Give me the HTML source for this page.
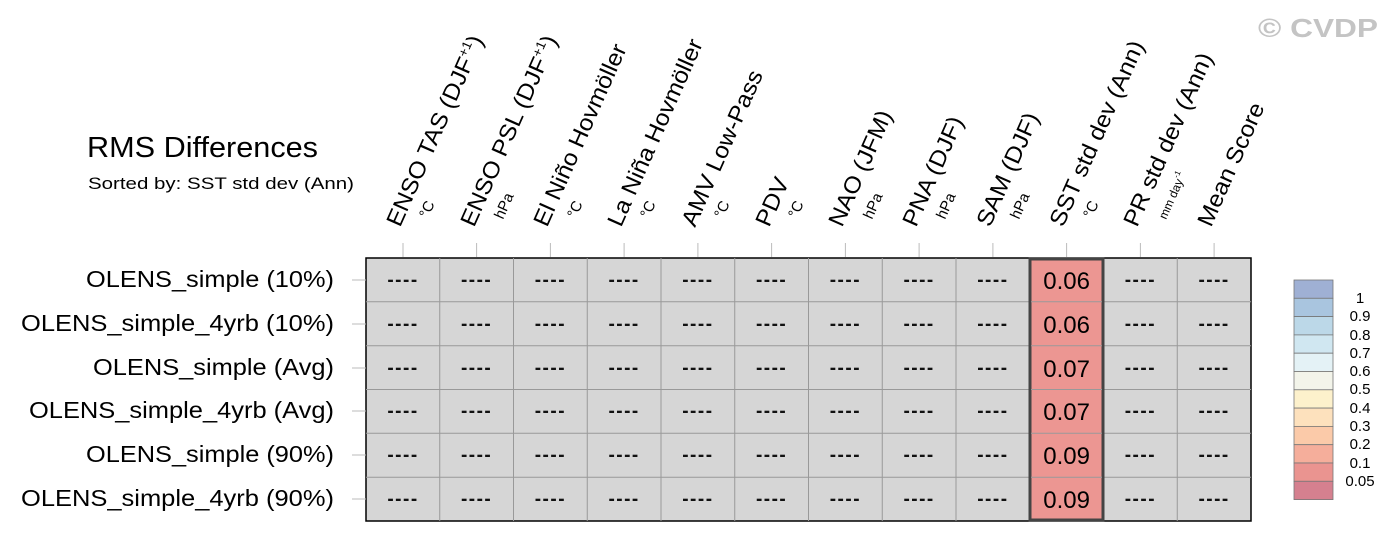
<!DOCTYPE html>
<html><head><meta charset="utf-8"><style>html,body{margin:0;padding:0;background:#fff}svg{display:block}</style></head>
<body>
<svg width="1397" height="542" viewBox="0 0 1397 542" xmlns="http://www.w3.org/2000/svg" font-family="Liberation Sans, Arial, sans-serif">
<text x="1258" y="37" font-size="26" font-weight="bold" fill="#c4c4c4" textLength="120" lengthAdjust="spacingAndGlyphs">© CVDP</text>
<text x="87" y="157" font-size="29" fill="#000" textLength="231" lengthAdjust="spacingAndGlyphs">RMS Differences</text>
<text x="88" y="189" font-size="17" fill="#000" textLength="266" lengthAdjust="spacingAndGlyphs">Sorted by: SST std dev (Ann)</text>
<rect x="366" y="258" width="885" height="263" fill="#d6d6d6" stroke="#000" stroke-width="1.5"/>
<g stroke="#999" stroke-width="1">
<line x1="439.75" y1="258" x2="439.75" y2="521"/><line x1="513.5" y1="258" x2="513.5" y2="521"/><line x1="587.25" y1="258" x2="587.25" y2="521"/><line x1="661" y1="258" x2="661" y2="521"/><line x1="734.75" y1="258" x2="734.75" y2="521"/><line x1="808.5" y1="258" x2="808.5" y2="521"/><line x1="882.25" y1="258" x2="882.25" y2="521"/><line x1="956" y1="258" x2="956" y2="521"/><line x1="1103.5" y1="258" x2="1103.5" y2="521"/><line x1="1177.25" y1="258" x2="1177.25" y2="521"/>
<line x1="366" y1="301.8" x2="1251" y2="301.8"/><line x1="366" y1="345.7" x2="1251" y2="345.7"/><line x1="366" y1="389.5" x2="1251" y2="389.5"/><line x1="366" y1="433.3" x2="1251" y2="433.3"/><line x1="366" y1="477.2" x2="1251" y2="477.2"/>
</g>
<rect x="1030" y="259" width="73" height="261" fill="#ec9692" stroke="#444" stroke-width="3"/>
<g stroke="#999"><line x1="1031" y1="301.8" x2="1102" y2="301.8"/><line x1="1031" y1="345.7" x2="1102" y2="345.7"/><line x1="1031" y1="389.5" x2="1102" y2="389.5"/><line x1="1031" y1="433.3" x2="1102" y2="433.3"/><line x1="1031" y1="477.2" x2="1102" y2="477.2"/></g>
<g stroke="#bbb"><line x1="352" y1="280" x2="366" y2="280"/><line x1="352" y1="324" x2="366" y2="324"/><line x1="352" y1="368" x2="366" y2="368"/><line x1="352" y1="411" x2="366" y2="411"/><line x1="352" y1="455" x2="366" y2="455"/><line x1="352" y1="499" x2="366" y2="499"/></g>
<g font-size="23" text-anchor="end" fill="#000">
<text x="334" y="287" textLength="248" lengthAdjust="spacingAndGlyphs">OLENS_simple (10%)</text>
<text x="334" y="331" textLength="313" lengthAdjust="spacingAndGlyphs">OLENS_simple_4yrb (10%)</text>
<text x="334" y="375" textLength="241" lengthAdjust="spacingAndGlyphs">OLENS_simple (Avg)</text>
<text x="334" y="418" textLength="305" lengthAdjust="spacingAndGlyphs">OLENS_simple_4yrb (Avg)</text>
<text x="334" y="462" textLength="248" lengthAdjust="spacingAndGlyphs">OLENS_simple (90%)</text>
<text x="334" y="506" textLength="313" lengthAdjust="spacingAndGlyphs">OLENS_simple_4yrb (90%)</text>
</g>
<g font-size="24" text-anchor="middle" fill="#000">
<text x="1066.6" y="289">0.06</text><text x="1066.6" y="333">0.06</text><text x="1066.6" y="377">0.07</text><text x="1066.6" y="420">0.07</text><text x="1066.6" y="464">0.09</text><text x="1066.6" y="508">0.09</text>
</g>
<g font-size="19" font-weight="bold" text-anchor="middle" fill="#111" letter-spacing="1.5">
<text x="403" y="286">----</text><text x="476.6" y="286">----</text><text x="550.4" y="286">----</text><text x="624.1" y="286">----</text><text x="697.9" y="286">----</text><text x="771.6" y="286">----</text><text x="845.4" y="286">----</text><text x="919.1" y="286">----</text><text x="992.9" y="286">----</text><text x="1140.4" y="286">----</text><text x="1214.1" y="286">----</text>
<text x="403" y="330">----</text><text x="476.6" y="330">----</text><text x="550.4" y="330">----</text><text x="624.1" y="330">----</text><text x="697.9" y="330">----</text><text x="771.6" y="330">----</text><text x="845.4" y="330">----</text><text x="919.1" y="330">----</text><text x="992.9" y="330">----</text><text x="1140.4" y="330">----</text><text x="1214.1" y="330">----</text>
<text x="403" y="374">----</text><text x="476.6" y="374">----</text><text x="550.4" y="374">----</text><text x="624.1" y="374">----</text><text x="697.9" y="374">----</text><text x="771.6" y="374">----</text><text x="845.4" y="374">----</text><text x="919.1" y="374">----</text><text x="992.9" y="374">----</text><text x="1140.4" y="374">----</text><text x="1214.1" y="374">----</text>
<text x="403" y="417">----</text><text x="476.6" y="417">----</text><text x="550.4" y="417">----</text><text x="624.1" y="417">----</text><text x="697.9" y="417">----</text><text x="771.6" y="417">----</text><text x="845.4" y="417">----</text><text x="919.1" y="417">----</text><text x="992.9" y="417">----</text><text x="1140.4" y="417">----</text><text x="1214.1" y="417">----</text>
<text x="403" y="461">----</text><text x="476.6" y="461">----</text><text x="550.4" y="461">----</text><text x="624.1" y="461">----</text><text x="697.9" y="461">----</text><text x="771.6" y="461">----</text><text x="845.4" y="461">----</text><text x="919.1" y="461">----</text><text x="992.9" y="461">----</text><text x="1140.4" y="461">----</text><text x="1214.1" y="461">----</text>
<text x="403" y="505">----</text><text x="476.6" y="505">----</text><text x="550.4" y="505">----</text><text x="624.1" y="505">----</text><text x="697.9" y="505">----</text><text x="771.6" y="505">----</text><text x="845.4" y="505">----</text><text x="919.1" y="505">----</text><text x="992.9" y="505">----</text><text x="1140.4" y="505">----</text><text x="1214.1" y="505">----</text>
</g>
<g stroke="#bbb">
<line x1="403" y1="243" x2="403" y2="257"/><line x1="476.6" y1="243" x2="476.6" y2="257"/><line x1="550.4" y1="243" x2="550.4" y2="257"/><line x1="624.1" y1="243" x2="624.1" y2="257"/><line x1="697.9" y1="243" x2="697.9" y2="257"/><line x1="771.6" y1="243" x2="771.6" y2="257"/><line x1="845.4" y1="243" x2="845.4" y2="257"/><line x1="919.1" y1="243" x2="919.1" y2="257"/><line x1="992.9" y1="243" x2="992.9" y2="257"/><line x1="1066.6" y1="243" x2="1066.6" y2="257"/><line x1="1140.4" y1="243" x2="1140.4" y2="257"/><line x1="1214.1" y1="243" x2="1214.1" y2="257"/>
</g>
<g font-size="23" fill="#000">
<text transform="translate(400,228) rotate(-66) scale(1.07,1)">ENSO TAS (DJF<tspan font-size="13" dy="-9">+1</tspan><tspan dy="9">)</tspan></text>
<text transform="translate(474,228) rotate(-66) scale(1.07,1)">ENSO PSL (DJF<tspan font-size="13" dy="-9">+1</tspan><tspan dy="9">)</tspan></text>
<text transform="translate(547,228) rotate(-66) scale(1.07,1)">El Niño Hovmöller</text>
<text transform="translate(621,228) rotate(-66) scale(1.07,1)">La Niña Hovmöller</text>
<text transform="translate(695,228) rotate(-66) scale(1.07,1)">AMV Low-Pass</text>
<text transform="translate(769,228) rotate(-66) scale(1.07,1)">PDV</text>
<text transform="translate(842,228) rotate(-66) scale(1.07,1)">NAO (JFM)</text>
<text transform="translate(916,228) rotate(-66) scale(1.07,1)">PNA (DJF)</text>
<text transform="translate(990,228) rotate(-66) scale(1.07,1)">SAM (DJF)</text>
<text transform="translate(1063,228) rotate(-66) scale(1.07,1)">SST std dev (Ann)</text>
<text transform="translate(1137,228) rotate(-66) scale(1.07,1)">PR std dev (Ann)</text>
<text transform="translate(1211,228) rotate(-66) scale(1.07,1)">Mean Score</text>
</g>
<g font-size="15" fill="#000">
<text transform="translate(428,219) rotate(-66)">°C</text>
<text transform="translate(503,220) rotate(-66)">hPa</text>
<text transform="translate(576,219) rotate(-66)">°C</text>
<text transform="translate(649,219) rotate(-66)">°C</text>
<text transform="translate(723,219) rotate(-66)">°C</text>
<text transform="translate(797,219) rotate(-66)">°C</text>
<text transform="translate(872,220) rotate(-66)">hPa</text>
<text transform="translate(945,220) rotate(-66)">hPa</text>
<text transform="translate(1019,220) rotate(-66)">hPa</text>
<text transform="translate(1092,219) rotate(-66)">°C</text>
<text transform="translate(1166,220) rotate(-66)" font-size="12">mm day<tspan font-size="8" dy="-6">-1</tspan></text>
</g>
<g stroke="#777" stroke-width="0.8">
<rect x="1294" y="280" width="39" height="18.3" fill="#9fb0d4"/>
<rect x="1294" y="298.3" width="39" height="18.3" fill="#a9c5df"/>
<rect x="1294" y="316.6" width="39" height="18.3" fill="#bcd8e8"/>
<rect x="1294" y="334.9" width="39" height="18.3" fill="#d0e7f1"/>
<rect x="1294" y="353.2" width="39" height="18.3" fill="#e4f2f6"/>
<rect x="1294" y="371.5" width="39" height="18.3" fill="#f3f4ea"/>
<rect x="1294" y="389.8" width="39" height="18.3" fill="#fdf1cc"/>
<rect x="1294" y="408.1" width="39" height="18.3" fill="#fde1bd"/>
<rect x="1294" y="426.4" width="39" height="18.3" fill="#fbcaa9"/>
<rect x="1294" y="444.7" width="39" height="18.3" fill="#f5ae9b"/>
<rect x="1294" y="463" width="39" height="18.3" fill="#ea9490"/>
<rect x="1294" y="481.3" width="39" height="18.3" fill="#d5808f"/>
</g>
<g font-size="15" text-anchor="middle" fill="#000">
<text x="1360" y="303">1</text><text x="1360" y="321">0.9</text><text x="1360" y="340">0.8</text><text x="1360" y="358">0.7</text><text x="1360" y="376">0.6</text><text x="1360" y="394">0.5</text><text x="1360" y="413">0.4</text><text x="1360" y="431">0.3</text><text x="1360" y="449">0.2</text><text x="1360" y="468">0.1</text><text x="1360" y="486">0.05</text>
</g>
</svg>
</body></html>
